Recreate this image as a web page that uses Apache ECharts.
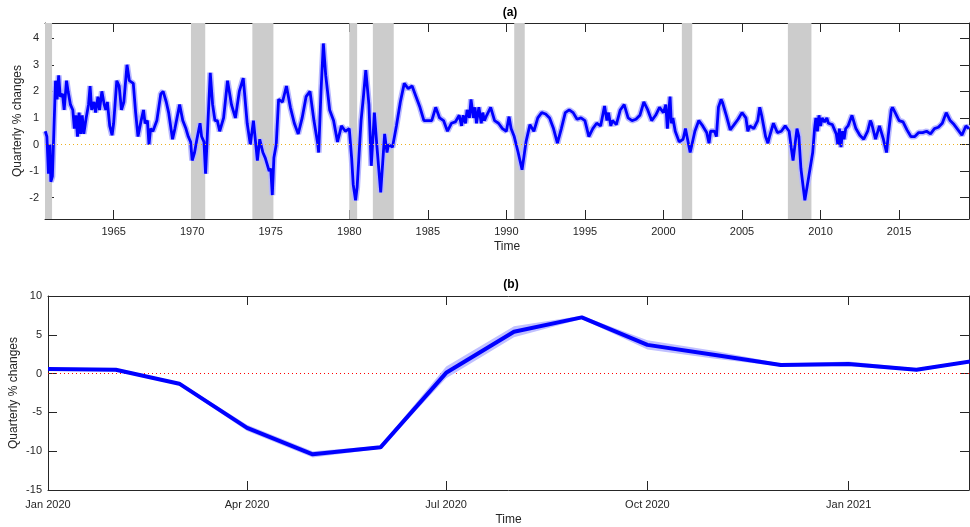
<!DOCTYPE html>
<html><head><meta charset="utf-8">
<script src="https://cdn.jsdelivr.net/npm/echarts@6/dist/echarts.min.js"></script>
<style>html,body{margin:0;padding:0;background:#fff}#c{width:970px;height:527px}</style>
</head><body><div id="c"></div>
<script>
// ---- Panel (a): [year, quarterly % change]
const topPoints = [
[1960.65,0.5],[1960.75,0.3],[1960.85,-1.1],[1960.95,0.0],[1961.0,-1.4],[1961.1,-1.2],[1961.2,0.6],[1961.3,2.4],
[1961.4,1.7],[1961.5,2.6],[1961.6,1.8],[1961.75,1.9],[1961.85,1.3],[1962.0,2.4],[1962.1,2.0],[1962.25,1.5],
[1962.4,1.3],[1962.5,0.6],[1962.6,1.1],[1962.7,0.3],[1962.8,1.2],[1962.9,0.4],[1963.0,1.1],[1963.1,0.4],
[1963.25,1.0],[1963.4,1.5],[1963.5,2.2],[1963.6,1.3],[1963.75,1.6],[1963.85,1.2],[1964.0,1.8],[1964.1,1.3],
[1964.25,2.0],[1964.4,1.5],[1964.5,1.3],[1964.6,1.6],[1964.75,0.7],[1964.9,0.35],[1965.0,0.8],[1965.2,2.4],
[1965.35,2.2],[1965.5,1.3],[1965.65,1.6],[1965.85,3.0],[1966.0,2.4],[1966.25,2.3],[1966.4,1.2],[1966.55,0.3],
[1966.75,0.9],[1966.9,1.3],[1967.0,0.8],[1967.15,0.9],[1967.25,0.0],[1967.35,0.6],[1967.5,0.5],[1967.75,0.9],
[1968.0,1.9],[1968.15,2.0],[1968.35,1.6],[1968.5,1.2],[1968.75,0.2],[1968.9,0.6],[1969.1,1.2],[1969.2,1.5],
[1969.4,0.9],[1969.6,0.6],[1969.75,0.3],[1969.9,0.1],[1970.0,-0.6],[1970.15,-0.3],[1970.3,0.2],[1970.5,0.8],
[1970.6,0.3],[1970.75,0.1],[1970.85,-1.1],[1971.0,0.8],[1971.15,2.7],[1971.3,1.5],[1971.45,0.9],[1971.6,0.9],
[1971.75,0.5],[1972.0,1.0],[1972.25,2.4],[1972.5,1.5],[1972.75,1.0],[1973.0,2.0],[1973.25,2.5],[1973.5,0.8],
[1973.7,0.0],[1973.9,0.9],[1974.0,0.3],[1974.15,-0.6],[1974.3,0.2],[1974.5,-0.3],[1974.65,-0.5],[1974.75,-0.7],
[1974.9,-1.0],[1975.0,-0.9],[1975.1,-1.9],[1975.2,-0.5],[1975.35,0.0],[1975.5,1.7],[1975.75,1.6],[1976.0,2.2],
[1976.25,1.4],[1976.5,0.8],[1976.75,0.4],[1977.0,1.0],[1977.25,1.8],[1977.5,2.0],[1977.75,0.9],[1978.0,0.0],
[1978.05,-0.3],[1978.2,2.0],[1978.35,3.8],[1978.5,2.6],[1978.75,1.3],[1979.0,0.9],[1979.25,0.1],[1979.5,0.7],
[1979.75,0.5],[1980.0,0.6],[1980.15,-0.5],[1980.25,-1.5],[1980.4,-2.1],[1980.5,-1.6],[1980.75,0.9],[1980.9,1.8],
[1981.05,2.8],[1981.25,1.5],[1981.4,-0.8],[1981.6,1.2],[1981.75,0.0],[1982.0,-1.8],[1982.25,0.4],[1982.4,-0.3],
[1982.5,0.0],[1982.75,-0.1],[1983.0,0.7],[1983.25,1.6],[1983.5,2.3],[1983.75,2.1],[1984.0,2.2],[1984.25,1.8],
[1984.5,1.4],[1984.75,0.9],[1985.0,0.9],[1985.25,0.9],[1985.5,1.4],[1985.75,1.0],[1986.0,0.9],[1986.25,0.5],
[1986.5,0.8],[1986.75,0.85],[1987.0,1.1],[1987.15,0.7],[1987.25,1.1],[1987.4,0.8],[1987.5,1.3],[1987.65,1.0],
[1987.75,1.7],[1987.9,1.0],[1988.0,1.4],[1988.1,0.8],[1988.25,1.4],[1988.4,0.8],[1988.5,1.2],[1988.6,0.9],
[1988.75,1.1],[1989.0,1.4],[1989.25,0.9],[1989.5,0.8],[1989.75,0.6],[1990.0,0.5],[1990.17,1.05],[1990.3,0.6],
[1990.5,0.3],[1990.75,-0.3],[1991.0,-0.95],[1991.25,0.1],[1991.5,0.75],[1991.75,0.5],[1992.0,1.0],[1992.25,1.2],
[1992.5,1.15],[1992.75,1.0],[1993.0,0.6],[1993.25,0.05],[1993.5,0.6],[1993.75,1.2],[1994.0,1.3],[1994.25,1.2],
[1994.5,0.95],[1994.75,1.0],[1995.0,0.9],[1995.25,0.3],[1995.5,0.6],[1995.75,0.8],[1996.0,0.7],[1996.25,1.45],
[1996.4,0.9],[1996.5,1.2],[1996.65,0.7],[1996.75,0.9],[1997.0,0.75],[1997.25,1.3],[1997.5,1.5],[1997.75,1.0],
[1998.0,0.9],[1998.25,0.95],[1998.5,1.1],[1998.75,1.6],[1999.0,1.3],[1999.25,0.9],[1999.5,1.1],[1999.75,1.4],
[2000.0,1.2],[2000.15,1.5],[2000.25,0.6],[2000.42,1.8],[2000.5,0.8],[2000.6,1.0],[2000.75,0.5],[2001.0,0.1],
[2001.25,0.2],[2001.4,0.6],[2001.5,0.3],[2001.7,-0.3],[2002.0,0.5],[2002.25,0.9],[2002.5,0.7],[2002.75,0.45],
[2002.9,0.05],[2003.0,0.5],[2003.25,0.5],[2003.37,0.3],[2003.5,1.4],[2003.67,1.7],[2003.75,1.6],[2004.0,1.1],
[2004.25,0.55],[2004.5,0.75],[2004.75,0.95],[2005.0,1.2],[2005.25,1.0],[2005.37,0.5],[2005.5,0.7],[2005.75,0.6],
[2006.0,0.9],[2006.13,1.4],[2006.25,1.1],[2006.5,0.3],[2006.65,0.05],[2006.75,0.3],[2007.0,0.8],[2007.25,0.45],
[2007.5,0.5],[2007.75,0.7],[2008.0,0.5],[2008.13,-0.1],[2008.25,-0.6],[2008.5,0.6],[2008.62,0.3],[2008.75,-0.9],
[2009.0,-2.1],[2009.25,-1.2],[2009.5,-0.3],[2009.62,0.6],[2009.7,1.0],[2009.8,0.5],[2009.9,1.1],[2010.0,0.7],
[2010.1,1.0],[2010.25,0.85],[2010.4,1.0],[2010.5,0.8],[2010.75,0.75],[2011.0,0.4],[2011.1,0.0],[2011.2,0.6],
[2011.3,-0.1],[2011.4,0.5],[2011.5,0.2],[2011.6,0.6],[2011.75,0.7],[2012.0,1.1],[2012.25,0.6],[2012.5,0.35],
[2012.75,0.2],[2013.0,0.5],[2013.17,0.9],[2013.25,0.8],[2013.5,0.2],[2013.75,0.7],[2014.0,0.2],[2014.2,-0.3],
[2014.3,0.3],[2014.5,1.3],[2014.58,1.4],[2014.75,1.2],[2015.0,0.9],[2015.25,0.85],[2015.5,0.55],[2015.75,0.3],
[2016.0,0.3],[2016.25,0.45],[2016.5,0.45],[2016.75,0.5],[2017.0,0.4],[2017.25,0.6],[2017.5,0.65],[2017.75,0.8],
[2018.0,1.2],[2018.25,0.9],[2018.5,0.75],[2018.75,0.55],[2019.0,0.35],[2019.25,0.7],[2019.45,0.6]
];
const recStart = [1960.30, 1969.92, 1973.83, 1980.00, 1981.50, 1990.50, 2001.17, 2007.92];
const recEnd   = [1961.08, 1970.83, 1975.17, 1980.50, 1982.83, 1991.17, 2001.83, 2009.42];
const topXTicks = [1965, 1970, 1975, 1980, 1985, 1990, 1995, 2000, 2005, 2010, 2015];
const topYTicks = [-2, -1, 0, 1, 2, 3, 4];

// ---- Panel (b)
const botDates  = ['2020-01-01','2020-02-01','2020-03-01','2020-04-01','2020-05-01','2020-06-01','2020-07-01','2020-08-01',
                   '2020-09-01','2020-10-01','2020-11-01','2020-12-01','2021-01-01','2021-02-01','2021-03-01'];
const botValues = [0.6, 0.5, -1.3, -7.0, -10.4, -9.5, 0.1, 5.4, 7.25, 3.7, 2.4, 1.1, 1.25, 0.5, 1.7];
const botLow    = [0.4, 0.3, -1.5, -7.4, -10.8, -9.7, -0.6, 4.7, 7.05, 3.1, 1.9, 0.9, 0.95, 0.3, 1.5];
const botHigh   = [0.8, 0.7, -1.1, -6.6, -10.0, -9.3, 0.9, 6.1, 7.45, 4.3, 2.9, 1.3, 1.55, 0.7, 1.9];
const botXTicks  = ['2020-01-01','2020-04-01','2020-07-01','2020-10-01','2021-01-01'];
const botXLabels = ['Jan 2020','Apr 2020','Jul 2020','Oct 2020','Jan 2021'];
const botYTicks  = [-15, -10, -5, 0, 5, 10];

// day number since 2020-01-01 (UTC, no timezone effects)
function dayNum(s){ const p = s.split('-').map(Number); return Math.round((Date.UTC(p[0], p[1]-1, p[2]) - Date.UTC(2020, 0, 1)) / 86400000); }
const TOP_X = [1960.63, 2019.45], TOP_Y = [-2.8, 4.57];
const BOT_X = [dayNum('2020-01-01'), dayNum('2021-02-25')], BOT_Y = [-15, 10];
const botXTickDays = botXTicks.map(dayNum);
const botDays = botDates.map(dayNum);

const AX = '#262626', FONT = 'Liberation Sans, Arial, Helvetica, sans-serif';
const tickStyle = (vals) => ({ show: true, inside: true, length: 9, lineStyle: { color: AX, width: 1 }, customValues: vals });
const lineStyleAx = { show: true, onZero: false, lineStyle: { color: AX, width: 1 } };
const nameStyle = { fontSize: 12, color: AX, fontFamily: FONT };
const titleStyle = { fontSize: 12, fontWeight: 'bold', color: '#000', fontFamily: FONT };

const chart = echarts.init(document.getElementById('c'), null, { renderer: 'canvas' });
chart.setOption({
  animation: false,
  backgroundColor: '#fff',
  textStyle: { fontFamily: FONT },
  title: [
    { text: '(a)', left: 510, top: 7, padding: 0, textAlign: 'center', textStyle: titleStyle },
    { text: '(b)', left: 511, top: 279, padding: 0, textAlign: 'center', textStyle: titleStyle }
  ],
  grid: [
    { left: 45, right: 1, top: 23, height: 196, containLabel: false },
    { left: 45, right: 1, top: 296, height: 194, containLabel: false }
  ],
  xAxis: [
    { gridIndex: 0, type: 'value', min: TOP_X[0], max: TOP_X[1], position: 'bottom',
      axisLine: lineStyleAx, axisTick: tickStyle(topXTicks), splitLine: { show: false },
      axisLabel: { customValues: topXTicks, margin: 7, fontSize: 11, color: AX, fontFamily: FONT, formatter: (v) => String(v) },
      name: 'Time', nameLocation: 'middle', nameGap: 22, nameMoveOverlap: false, nameTextStyle: nameStyle },
    { gridIndex: 0, type: 'value', min: TOP_X[0], max: TOP_X[1], position: 'top',
      axisLine: lineStyleAx, axisTick: tickStyle(topXTicks), splitLine: { show: false }, axisLabel: { show: false } },
    { gridIndex: 1, type: 'value', min: BOT_X[0], max: BOT_X[1], position: 'bottom',
      axisLine: lineStyleAx, axisTick: tickStyle(botXTickDays), splitLine: { show: false },
      axisLabel: { customValues: botXTickDays, margin: 9, fontSize: 11, color: AX, fontFamily: FONT,
        formatter: (v) => { const i = botXTickDays.indexOf(Math.round(v)); return i >= 0 ? botXLabels[i] : ''; } },
      name: 'Time', nameLocation: 'middle', nameGap: 24, nameMoveOverlap: false, nameTextStyle: nameStyle },
    { gridIndex: 1, type: 'value', min: BOT_X[0], max: BOT_X[1], position: 'top',
      axisLine: lineStyleAx, axisTick: tickStyle(botXTickDays), splitLine: { show: false }, axisLabel: { show: false } }
  ],
  yAxis: [
    { gridIndex: 0, type: 'value', min: TOP_Y[0], max: TOP_Y[1], position: 'left',
      axisLine: lineStyleAx, axisTick: tickStyle(topYTicks), splitLine: { show: false },
      axisLabel: { customValues: topYTicks, margin: 6, fontSize: 11, color: AX, fontFamily: FONT },
      name: 'Quarterly % changes', nameLocation: 'middle', nameGap: 21, nameMoveOverlap: false, nameTextStyle: nameStyle },
    { gridIndex: 0, type: 'value', min: TOP_Y[0], max: TOP_Y[1], position: 'right',
      axisLine: lineStyleAx, axisTick: tickStyle(topYTicks), splitLine: { show: false }, axisLabel: { show: false } },
    { gridIndex: 1, type: 'value', min: BOT_Y[0], max: BOT_Y[1], position: 'left',
      axisLine: lineStyleAx, axisTick: tickStyle(botYTicks), splitLine: { show: false },
      axisLabel: { customValues: botYTicks, margin: 6, fontSize: 11, color: AX, fontFamily: FONT },
      name: 'Quarterly % changes', nameLocation: 'middle', nameGap: 28, nameMoveOverlap: false, nameTextStyle: nameStyle },
    { gridIndex: 1, type: 'value', min: BOT_Y[0], max: BOT_Y[1], position: 'right',
      axisLine: lineStyleAx, axisTick: tickStyle(botYTicks), splitLine: { show: false }, axisLabel: { show: false } }
  ],
  series: [
    { type: 'line', xAxisIndex: 0, yAxisIndex: 0, data: topPoints, showSymbol: false, silent: true, z: 2,
      lineStyle: { color: '#b8b8ff', width: 6 },
      markArea: { silent: true, itemStyle: { color: '#cccccc' },
        data: recStart.map((s, i) => [{ xAxis: Math.max(s, TOP_X[0]) }, { xAxis: recEnd[i] }]) },
      markLine: { silent: true, symbol: 'none', label: { show: false }, animation: false,
        lineStyle: { color: '#EDB120', type: [1, 3], width: 1.2 }, data: [{ yAxis: 0 }] } },
    { type: 'line', xAxisIndex: 0, yAxisIndex: 0, data: topPoints, showSymbol: false, silent: true, z: 3,
      lineStyle: { color: '#0000ff', width: 2.8 } },
    // confidence band of panel (b): polygon through upper values then lower values, via the axis scales
    { type: 'custom', xAxisIndex: 2, yAxisIndex: 2, silent: true, clip: true, z: 2,
      data: [[botDays[0], botValues[0]]],
      renderItem: (params, api) => {
        const pts = [];
        for (let i = 0; i < botDays.length; i++) pts.push(api.coord([botDays[i], botHigh[i]]));
        for (let i = botDays.length - 1; i >= 0; i--) pts.push(api.coord([botDays[i], botLow[i]]));
        return { type: 'polygon', shape: { points: pts }, style: { fill: '#c0c0ff' } };
      } },
    { type: 'line', xAxisIndex: 2, yAxisIndex: 2, data: botDays.map((d, i) => [d, botValues[i]]),
      showSymbol: false, silent: true, z: 3, lineStyle: { color: '#0000ff', width: 4 },
      markLine: { silent: true, symbol: 'none', label: { show: false }, animation: false, z: 1,
        lineStyle: { color: '#ff0000', type: [1, 3], width: 1 }, data: [{ yAxis: 0 }] } }
  ]
});
</script></body></html>
